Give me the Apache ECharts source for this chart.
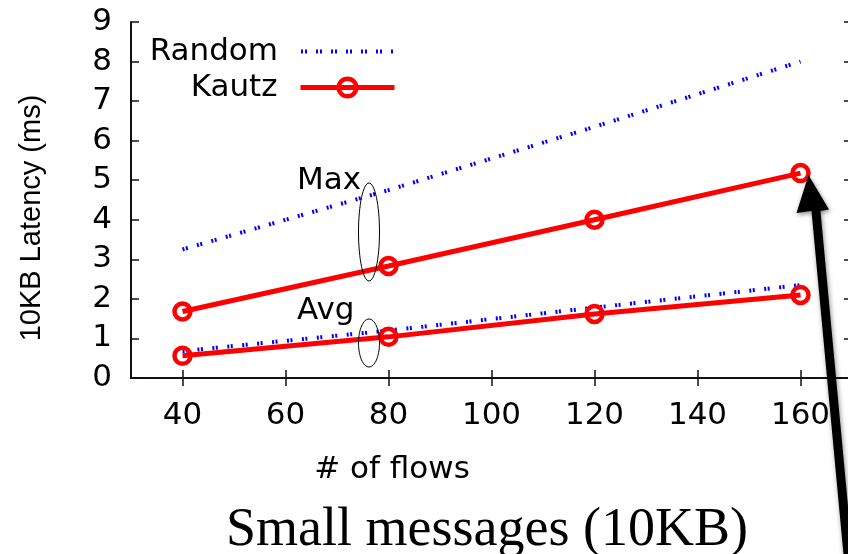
<!DOCTYPE html>
<html>
<head>
<meta charset="utf-8">
<script src="https://cdn.jsdelivr.net/npm/echarts@6/dist/echarts.min.js"></script>
<style>
  html, body { margin: 0; padding: 0; background: #fff; }
  #chart { width: 848px; height: 554px; }
</style>
</head>
<body>
<div id="chart"></div>
<script>
// datos
const flows = [40, 80, 120, 160];
const randomMax = [3.25, 4.75, 6.35, 8.0];
const randomAvg = [0.68, 1.2, 1.78, 2.35];
const kautzMax = [1.68, 2.83, 4.0, 5.18];
const kautzAvg = [0.56, 1.04, 1.62, 2.1];
const xTicks = [40, 60, 80, 100, 120, 140, 160];

const SANS = 'DejaVu Sans';
const pares = ys => flows.map((x, i) => [x, ys[i]]);

// trazo punteado doble como el de gnuplot
const randomStyle = { color: '#0000ff', width: 4, type: [2, 1.5, 2, 9.5] };
const kautzStyle = { color: '#ff0000', width: 5 };

function lineaRandom(ys) {
  return {
    type: 'line', name: 'Random', data: pares(ys),
    symbol: 'none', lineStyle: randomStyle,
    itemStyle: { color: '#0000ff' }, z: 2
  };
}
function lineaKautz(ys) {
  return {
    type: 'line', name: 'Kautz', data: pares(ys),
    symbol: 'circle', symbolSize: 16,
    lineStyle: kautzStyle,
    itemStyle: { color: 'transparent', borderColor: '#ff0000', borderWidth: 4.5 },
    z: 3
  };
}

const chart = echarts.init(document.getElementById('chart'));

const ejeX = {
  type: 'value', min: 30, max: 170,
  axisLine: { lineStyle: { color: '#111', width: 2 } },
  axisTick: { inside: true, length: 8, customValues: xTicks, lineStyle: { color: '#111', width: 1.5 } },
  splitLine: { show: false }
};
const ejeY = {
  type: 'value', min: 0, max: 9, interval: 1,
  axisLine: { show: true, lineStyle: { color: '#111', width: 2 } },
  axisTick: { show: true, inside: true, length: 8, lineStyle: { color: '#111', width: 1.5 } },
  splitLine: { show: false }
};

const legendaBase = {
  orient: 'horizontal', align: 'right', padding: 0,
  itemWidth: 94, itemHeight: 22, right: 451,
  selectedMode: false,
  textStyle: { fontFamily: SANS, fontSize: 31, color: '#000', padding: [0, 18, 0, 0] }
};

const option = {
  animation: false,
  grid: { left: 131, top: 22, width: 721, height: 356, show: false, outerBoundsMode: 'none', containLabel: false },
  legend: [
    Object.assign({}, legendaBase, {
      top: 36,
      data: [{ name: 'Random', itemStyle: { opacity: 0 } }],
      lineStyle: { width: 4, type: [2, 2, 2, 9] }
    }),
    Object.assign({}, legendaBase, {
      top: 72,
      data: ['Kautz'],
      lineStyle: { width: 5 },
      itemStyle: { borderWidth: 4.5 }
    })
  ],
  xAxis: [
    Object.assign({}, ejeX, {
      position: 'bottom',
      axisLabel: { customValues: xTicks, margin: 22, fontFamily: SANS, fontSize: 31, color: '#000' }
    }),
    Object.assign({}, ejeX, { position: 'top', axisLabel: { show: false } })
  ],
  yAxis: [
    Object.assign({}, ejeY, {
      position: 'left',
      axisLabel: { margin: 19, fontFamily: SANS, fontSize: 31, color: '#000' }
    }),
    Object.assign({}, ejeY, { position: 'right', axisLabel: { show: false } })
  ],
  series: [
    lineaRandom(randomMax),
    lineaRandom(randomAvg),
    lineaKautz(kautzMax),
    lineaKautz(kautzAvg)
  ]
};
chart.setOption(option);

// anotaciones: elipses, textos, flecha y titulos
const flecha = [[808.5, 175], [829, 209.5], [820.5, 211], [853, 560], [844, 560], [811.5, 211], [796.5, 213]];
chart.setOption({
  graphic: [
    { type: 'text', x: 32, y: 218, rotation: Math.PI / 2,
      style: { text: '10KB Latency (ms)', font: '29px "Liberation Sans"', fill: '#000', align: 'center', verticalAlign: 'middle' } },
    { type: 'text', x: 392, y: 470,
      style: { text: '# of flows', font: '31px "DejaVu Sans"', fill: '#000', align: 'center', verticalAlign: 'middle' } },
    { type: 'text', x: 487, y: 531,
      style: { text: 'Small messages (10KB)', font: '54px "Liberation Serif"', fill: '#000', align: 'center', verticalAlign: 'middle' } },
    { type: 'text', x: 297, y: 181,
      style: { text: 'Max', font: '31px "DejaVu Sans"', fill: '#000', align: 'left', verticalAlign: 'middle' } },
    { type: 'text', x: 297, y: 311,
      style: { text: 'Avg', font: '31px "DejaVu Sans"', fill: '#000', align: 'left', verticalAlign: 'middle' } },
    { type: 'ellipse', shape: { cx: 369, cy: 232, rx: 10.5, ry: 49 }, z: 10,
      style: { fill: 'none', stroke: '#000', lineWidth: 1 } },
    { type: 'ellipse', shape: { cx: 369, cy: 343, rx: 10.5, ry: 24 }, z: 10,
      style: { fill: 'none', stroke: '#000', lineWidth: 1 } },
    { type: 'polygon', shape: { points: flecha }, z: 20,
      style: { fill: '#000', shadowBlur: 5, shadowColor: 'rgba(0,0,0,0.45)', shadowOffsetX: 1, shadowOffsetY: 2 } }
  ]
});
</script>
</body>
</html>
